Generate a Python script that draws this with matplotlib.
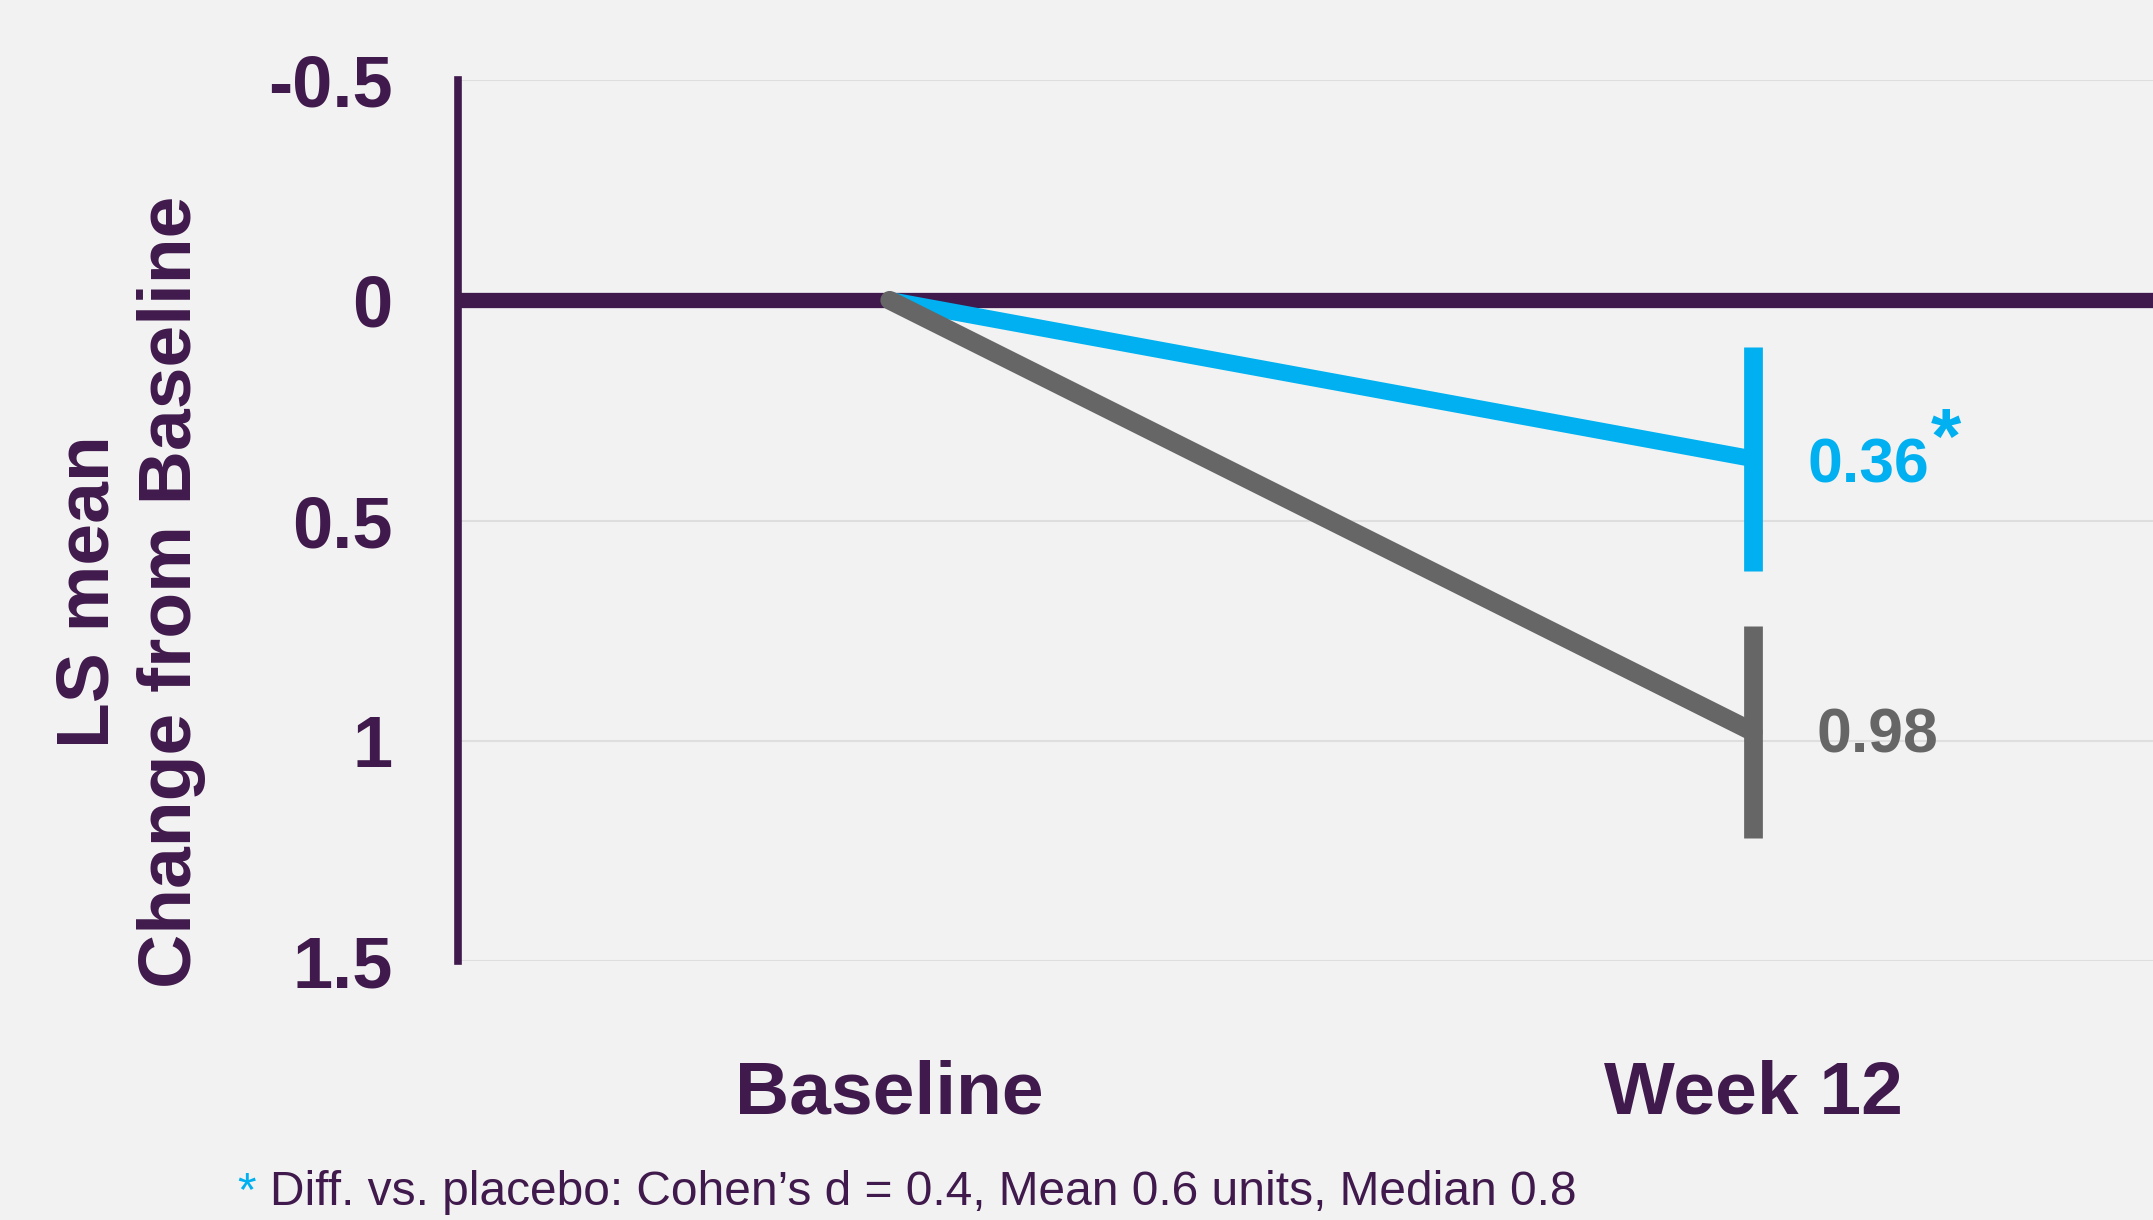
import matplotlib.pyplot as plt

plt.rcParams['font.family'] = ['Liberation Sans', 'DejaVu Sans']

# data
timepoints = ['Baseline', 'Week 12']
x_pos = [0, 1]
treat_mean = [0, 0.36]
treat_err = [0, 0.255]
placebo_mean = [0, 0.98]
placebo_err = [0, 0.24]
yticks = [-0.5, 0, 0.5, 1, 1.5]
ytick_labels = ['-0.5', '0', '0.5', '1', '1.5']

PURPLE = '#401A4C'
BLUE = '#00B0F0'
GREY = '#666666'
BG = '#F2F2F2'

fig = plt.figure(figsize=(21.53, 12.2), dpi=100, facecolor=BG)
ax = fig.add_axes([0.2127, 0.2123, 0.7873, 0.7221], facecolor=BG)

ax.set_ylim(1.5, -0.5)
ax.set_xlim(-0.5, 1.463)

# grid + zero line
for yv in yticks:
    ax.axhline(yv, color='#DEDEDE', lw=1.5, zorder=1)
ax.axhline(0, color=PURPLE, lw=11, zorder=2)

# lines
ax.plot(x_pos, treat_mean, color=BLUE, lw=12, solid_capstyle='round', zorder=3)
ax.plot(x_pos, placebo_mean, color=GREY, lw=13.5, solid_capstyle='round', zorder=4)

# error bars at week 12 (no caps)
ax.errorbar(x_pos[1:], treat_mean[1:], yerr=treat_err[1:], fmt='none',
            ecolor=BLUE, elinewidth=13.5, capsize=0, zorder=3)
ax.errorbar(x_pos[1:], placebo_mean[1:], yerr=placebo_err[1:], fmt='none',
            ecolor=GREY, elinewidth=13.5, capsize=0, zorder=4)

# value labels
t1 = ax.annotate(f'{treat_mean[1]:.2f}', xy=(1.063, treat_mean[1]), xytext=(0, -5),
                 textcoords='offset points', color=BLUE, fontsize=45,
                 fontweight='bold', va='center', ha='left', zorder=5)
ax.annotate('*', xy=(1, 1), xycoords=t1, xytext=(1, 22), textcoords='offset points',
            color=BLUE, fontsize=56, fontweight='bold', ha='left', va='top')
ax.annotate(f'{placebo_mean[1]:.2f}', xy=(1.073, placebo_mean[1]), xytext=(0, -3),
            textcoords='offset points', color=GREY, fontsize=45,
            fontweight='bold', va='center', ha='left', zorder=5)

# axes styling
for s in ['top', 'right', 'bottom']:
    ax.spines[s].set_visible(False)
ax.spines['left'].set_color(PURPLE)
ax.spines['left'].set_linewidth(5.5)
ax.set_yticks(yticks)
ax.set_yticklabels(ytick_labels, fontsize=52, fontweight='bold', color=PURPLE)
ax.tick_params(axis='y', length=0, pad=47)
ax.set_xticks(x_pos)
ax.set_xticklabels(timepoints, fontsize=54, fontweight='bold', color=PURPLE)
ax.tick_params(axis='x', length=0, pad=71)

fig.text(0.0605, 0.515, 'LS mean\nChange from Baseline', rotation=90, fontsize=54,
         fontweight='bold', color=PURPLE, ha='center', va='center', linespacing=1.25)

# footnote
fig.text(0.110, 0.004, '*', color=BLUE, fontsize=34.5, ha='left', va='bottom')
fig.text(0.1255, 0.004, 'Diff. vs. placebo: Cohen\u2019s d = 0.4, Mean 0.6 units, Median 0.8',
         color=PURPLE, fontsize=34.5, ha='left', va='bottom')

fig.savefig('out.png', dpi=100, facecolor=BG)
